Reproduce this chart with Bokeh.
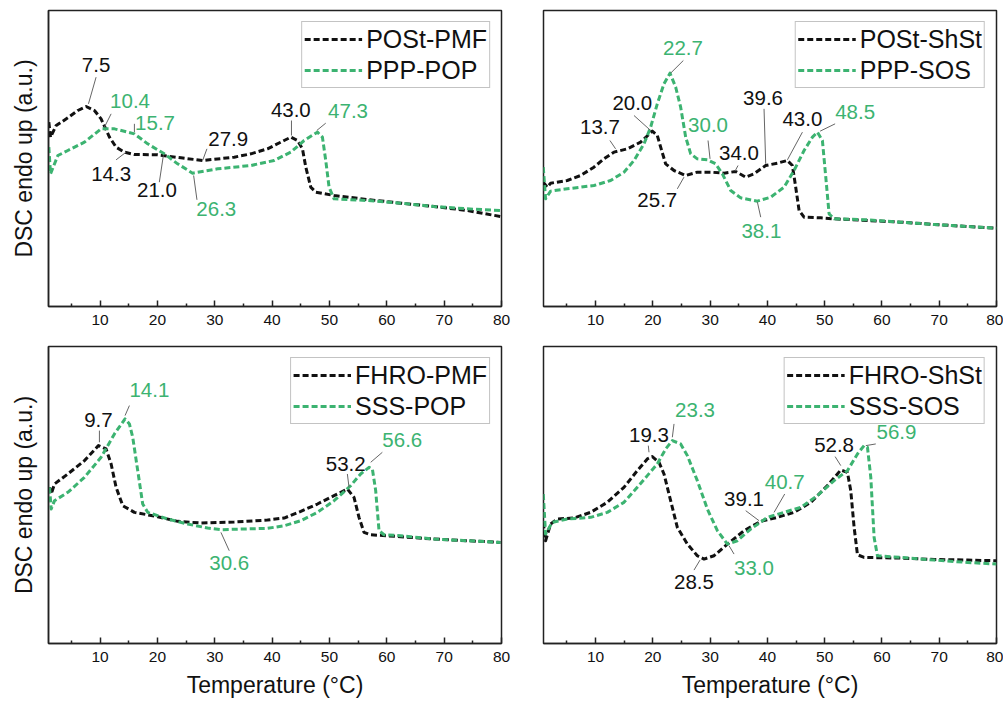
import numpy as np
from bokeh.plotting import figure
from bokeh.layouts import column, row
from bokeh.models import Range1d, Legend, LegendItem, FixedTicker, ColumnDataSource, LabelSet
from bokeh.core.properties import value
from bokeh.embed import file_html
from bokeh.resources import INLINE

FONT = "Liberation Sans"
BLACK = "#111111"
GREEN = "#3cb371"

# ---------------- tick labels ----------------
major_ticks = [10, 20, 30, 40, 50, 60, 70, 80]
minor_ticks = [5, 15, 25, 35, 45, 55, 65, 75]

# ---------------- panel A : POSt-PMF / PPP-POP ----------------
a_names = ["POSt-PMF", "PPP-POP"]
a_k_T = [1.06, 1.35, 2.34, 4.37, 6.11, 7.56, 9.01, 10.17, 11.63, 12.79, 14.24, 15.98, 20.04, 24.10,
         27.88, 33.39, 36.29, 39.19, 42.10, 43.26, 44.42, 45.29, 45.87, 46.74, 47.61, 50.80, 56.60,
         62.41, 68.21, 74.02, 79.82]
a_k_Q = [63.5, 59.0, 62.5, 64.8, 67.0, 68.2, 67.0, 64.5, 59.0, 56.0, 54.5, 53.8, 53.7, 52.8,
         52.0, 53.0, 54.0, 55.5, 58.0, 59.0, 58.0, 55.5, 50.0, 44.0, 42.5, 41.5, 40.3,
         39.2, 38.2, 37.0, 35.2]
a_g_T = [1.06, 1.35, 2.63, 4.37, 7.27, 10.17, 12.50, 15.98, 18.30, 21.20, 23.52, 26.13, 30.49, 36.29,
         40.35, 43.26, 45.58, 47.90, 48.77, 49.35, 49.93, 50.80, 56.60, 62.41, 68.21, 74.02, 79.82]
a_g_Q = [56.0, 48.0, 53.5, 55.0, 57.5, 61.5, 61.5, 60.0, 57.0, 54.0, 51.0, 48.2, 49.5, 50.5,
         52.0, 54.5, 58.0, 60.5, 59.0, 52.0, 44.0, 40.5, 40.0, 39.2, 38.2, 37.5, 37.0]
a_ann_text = ["7.5", "14.3", "21.0", "27.9", "43.0", "10.4", "15.7", "26.3", "47.3"]
a_ann_series = ["k", "k", "k", "k", "k", "g", "g", "g", "g"]

# ---------------- panel B : POSt-ShSt / PPP-SOS ----------------
b_names = ["POSt-ShSt", "PPP-SOS"]
b_k_T = [0.86, 1.56, 2.14, 5.05, 7.38, 9.71, 11.46, 13.20, 15.53, 17.86, 19.90, 20.77, 21.36, 22.23,
         23.69, 25.73, 27.76, 30.09, 32.42, 34.46, 36.21, 37.66, 39.70, 41.74, 43.49, 44.36, 44.94,
         45.53, 46.40, 49.31, 51.64, 57.47, 63.29, 69.12, 74.94, 80.0]
b_k_Q = [45.5, 44.0, 45.2, 46.0, 47.5, 50.0, 52.5, 54.5, 55.5, 57.5, 60.8, 59.5, 56.0, 51.0,
         49.0, 47.5, 48.5, 48.5, 48.2, 48.7, 47.0, 48.0, 50.5, 51.2, 52.0, 50.5, 44.0,
         37.0, 35.0, 34.8, 34.5, 34.0, 33.5, 32.8, 32.2, 31.7]
b_g_T = [0.86, 1.26, 2.14, 5.05, 9.71, 12.62, 14.95, 16.70, 18.45, 19.61, 20.77, 21.94, 22.99, 23.98,
         24.85, 25.73, 26.60, 27.76, 29.51, 30.97, 32.13, 33.59, 35.33, 38.25, 40.58, 42.91, 44.65,
         46.40, 47.86, 48.73, 49.60, 50.19, 50.77, 51.64, 57.47, 63.29, 69.12, 74.94, 80.0]
b_g_Q = [50.0, 40.5, 42.8, 43.5, 44.5, 46.0, 48.5, 52.0, 57.0, 62.0, 69.0, 75.0, 78.2, 74.0,
         68.0, 59.0, 54.0, 52.5, 52.2, 51.0, 48.0, 43.0, 40.8, 39.8, 41.0, 44.0, 49.0,
         55.0, 59.0, 60.5, 58.0, 47.0, 36.0, 34.5, 34.2, 33.5, 32.8, 32.2, 31.7]
b_ann_text = ["13.7", "20.0", "25.7", "34.0", "39.6", "43.0", "22.7", "30.0", "38.1", "48.5"]
b_ann_series = ["k", "k", "k", "k", "k", "k", "g", "g", "g", "g"]

# ---------------- panel C : FHRO-PMF / SSS-POP ----------------
c_names = ["FHRO-PMF", "SSS-POP"]
c_k_T = [1.18, 1.47, 2.05, 4.37, 7.27, 9.71, 11.04, 11.92, 12.79, 13.95, 15.98, 20.04, 23.52, 27.59,
         33.39, 39.19, 42.10, 45.00, 47.90, 50.80, 53.12, 54.28, 55.15, 56.02, 57.19, 62.41, 68.21,
         74.02, 79.82]
c_k_Q = [53.0, 51.0, 54.0, 57.0, 61.0, 65.5, 64.5, 60.0, 53.0, 47.5, 45.5, 44.2, 42.8, 42.3,
         42.6, 43.2, 43.8, 45.8, 48.0, 50.5, 52.5, 50.0, 44.0, 39.5, 38.8, 38.2, 37.5,
         37.0, 36.5]
c_g_T = [1.18, 1.47, 2.05, 4.37, 7.27, 10.17, 12.50, 14.35, 15.11, 15.69, 16.56, 17.43, 18.30, 21.78,
         25.26, 28.75, 31.07, 34.55, 39.19, 42.10, 45.00, 47.90, 50.80, 53.70, 55.44, 56.90, 57.48,
         58.06, 58.64, 59.51, 62.41, 68.21, 74.02, 79.82]
c_g_Q = [53.0, 46.5, 49.0, 51.5, 56.0, 62.0, 69.0, 73.5, 72.0, 68.0, 58.0, 48.0, 45.5, 43.5,
         42.0, 40.8, 40.3, 40.5, 40.7, 41.5, 43.0, 45.5, 49.0, 53.5, 57.0, 59.0, 58.5,
         52.0, 40.0, 38.8, 38.5, 37.5, 37.0, 36.5]
c_ann_text = ["9.7", "53.2", "14.1", "30.6", "56.6"]
c_ann_series = ["k", "k", "g", "g", "g"]

# ---------------- panel D : FHRO-ShSt / SSS-SOS ----------------
d_names = ["FHRO-ShSt", "SSS-SOS"]
d_k_T = [0.86, 1.26, 2.14, 3.30, 6.21, 9.13, 12.04, 14.95, 17.28, 19.03, 19.90, 21.07, 21.94, 23.10,
         24.27, 26.02, 27.76, 28.93, 30.68, 33.01, 35.92, 38.83, 41.74, 44.65, 47.57, 50.48, 52.81,
         53.97, 54.55, 55.14, 55.72, 56.88, 63.29, 69.12, 74.94, 80.0]
d_k_Q = [42.5, 37.0, 42.0, 43.5, 43.8, 45.5, 48.5, 53.0, 58.0, 61.5, 62.2, 60.5, 57.0, 49.0,
         41.0, 36.0, 32.5, 31.5, 32.5, 36.0, 40.0, 42.8, 44.0, 45.5, 48.5, 53.5, 58.2,
         57.5, 52.0, 41.0, 32.8, 32.0, 31.8, 31.4, 31.2, 31.0]
d_g_T = [0.86, 1.26, 2.43, 5.05, 9.13, 12.04, 14.95, 17.28, 19.03, 20.77, 22.23, 23.40, 24.85, 26.02,
         27.76, 29.51, 31.26, 33.01, 34.75, 37.08, 39.99, 42.91, 45.82, 48.73, 51.64, 53.97, 55.72,
         56.88, 57.47, 58.05, 58.63, 59.21, 63.29, 69.12, 74.94, 80.0]
d_g_Q = [51.0, 39.0, 42.5, 43.5, 44.0, 45.5, 48.5, 53.0, 56.5, 60.0, 64.5, 67.0, 66.0, 62.5,
         55.0, 46.5, 40.0, 36.0, 37.0, 40.5, 44.0, 45.5, 47.0, 50.5, 55.0, 58.0, 63.0,
         65.5, 65.0, 56.0, 38.0, 32.5, 32.0, 31.2, 30.5, 30.0]
d_ann_text = ["19.3", "28.5", "39.1", "52.8", "23.3", "33.0", "40.7", "56.9"]
d_ann_series = ["k", "k", "k", "k", "g", "g", "g", "g"]

# ---------------- annotation layout (label centre, leader start, leader end) ----------------
a_ann_pos = [(9.30, 80.8, 9.30, 77.0, 7.97, 69.0),
             (11.92, 48.0, 12.79, 52.2, 14.53, 54.5),
             (19.92, 43.2, 20.33, 45.5, 21.03, 53.5),
             (32.34, 58.5, 28.63, 55.5, 27.88, 52.0),
             (43.26, 67.1, 43.37, 64.0, 43.37, 59.5),
             (15.22, 69.8, 11.92, 66.0, 10.75, 62.0),
             (19.58, 63.3, 15.98, 63.0, 15.98, 60.5),
             (30.26, 37.6, 26.89, 40.2, 26.31, 47.5),
             (53.24, 67.0, 49.35, 63.2, 47.78, 61.0)]
b_ann_pos = [(10.76, 62.0, 12.50, 58.0, 13.49, 55.5),
             (16.41, 69.2, 16.70, 65.5, 19.61, 61.0),
             (20.77, 40.2, 24.27, 43.5, 25.43, 47.0),
             (35.04, 54.3, 34.87, 50.5, 34.34, 48.8),
             (39.24, 70.8, 39.41, 67.5, 39.70, 51.0),
             (46.11, 64.5, 46.11, 60.5, 43.49, 52.2),
             (25.26, 85.8, 25.32, 82.0, 23.10, 78.2),
             (29.63, 62.8, 29.63, 58.0, 29.98, 52.5),
             (38.95, 31.0, 38.83, 35.0, 38.25, 39.5),
             (55.31, 66.5, 51.82, 63.0, 49.20, 60.8)]
c_ann_pos = [(9.71, 73.2, 9.88, 70.0, 9.88, 66.5),
             (52.83, 60.0, 53.12, 57.0, 53.41, 53.0),
             (18.59, 82.2, 15.11, 77.5, 14.35, 74.5),
             (32.52, 30.2, 32.52, 34.0, 31.07, 39.5),
             (62.70, 67.2, 59.22, 63.5, 57.19, 60.5)]
d_ann_pos = [(19.32, 68.8, 19.20, 65.5, 19.32, 63.5),
             (27.18, 24.5, 27.18, 28.2, 28.23, 31.2),
             (35.92, 49.5, 36.21, 46.0, 38.54, 43.0),
             (51.64, 65.7, 51.82, 62.2, 52.81, 59.5),
             (27.36, 76.3, 23.69, 72.0, 23.40, 68.0),
             (37.66, 28.8, 34.17, 33.0, 33.30, 35.5),
             (43.02, 54.5, 43.02, 51.0, 41.16, 45.5),
             (62.53, 69.5, 58.92, 66.0, 57.18, 65.5)]


def make_panel(names, kT, kQ, gT, gQ, ann_text, ann_series, ann_pos,
               xr, yr, width, height, mb, ylabel, xlabel):
    p = figure(width=width, height=height, x_range=Range1d(*xr), y_range=Range1d(*yr),
               output_backend="svg", toolbar_location=None,
               min_border_left=mb[0], min_border_right=mb[1],
               min_border_top=mb[2], min_border_bottom=mb[3])
    p.grid.visible = False
    p.background_fill_color = "white"
    p.border_fill_color = "white"
    p.outline_line_color = "#222222"
    p.outline_line_width = 1.5
    p.outline_line_alpha = 1.0

    xa = p.xaxis[0]
    xa.ticker = FixedTicker(ticks=major_ticks, minor_ticks=minor_ticks)
    xa.major_tick_in = 6
    xa.major_tick_out = 0
    xa.minor_tick_in = 3
    xa.minor_tick_out = 0
    xa.major_tick_line_color = "#222222"
    xa.minor_tick_line_color = "#222222"
    xa.major_tick_line_width = 1.5
    xa.minor_tick_line_width = 1.5
    xa.axis_line_color = "#222222"
    xa.axis_line_width = 1.5
    xa.major_label_text_font = FONT
    xa.major_label_text_font_size = "15.5px"
    xa.major_label_text_color = "#111111"
    xa.major_label_standoff = 8
    if xlabel:
        xa.axis_label = xlabel
        xa.axis_label_text_font = FONT
        xa.axis_label_text_font_size = "23px"
        xa.axis_label_text_font_style = "normal"
        xa.axis_label_text_color = "#111111"
        xa.axis_label_standoff = 7

    ya = p.yaxis[0]
    if ylabel:
        ya.ticker = FixedTicker(ticks=[])
        ya.major_tick_in = 0
        ya.major_tick_out = 0
        ya.minor_tick_in = 0
        ya.minor_tick_out = 0
        ya.major_label_standoff = 0
        ya.axis_line_color = "#222222"
        ya.axis_line_width = 1.5
        ya.axis_label = ylabel
        ya.axis_label_text_font = FONT
        ya.axis_label_text_font_size = "23px"
        ya.axis_label_text_font_style = "normal"
        ya.axis_label_text_color = "#111111"
        ya.axis_label_standoff = 12
    else:
        ya.visible = False

    rk = p.line(kT, kQ, line_color=BLACK, line_width=3, line_dash="6 3", line_join="round")
    rg = p.line(gT, gQ, line_color=GREEN, line_width=3, line_dash="6 3", line_join="round")

    cols = [BLACK if s == "k" else GREEN for s in ann_series]
    lx = [a[0] for a in ann_pos]
    ly = [a[1] for a in ann_pos]
    seg = ColumnDataSource(dict(x0=[a[2] for a in ann_pos], y0=[a[3] for a in ann_pos],
                                x1=[a[4] for a in ann_pos], y1=[a[5] for a in ann_pos]))
    p.segment(x0="x0", y0="y0", x1="x1", y1="y1", source=seg, line_color="#666666", line_width=1)
    src = ColumnDataSource(dict(x=lx, y=ly, text=ann_text, color=cols))
    p.add_layout(LabelSet(x="x", y="y", text="text", source=src, text_color="color",
                          text_align="center", text_baseline="middle",
                          text_font=value(FONT), text_font_size=value("20.5px")))

    legend = Legend(items=[LegendItem(label=names[0], renderers=[rk]),
                           LegendItem(label=names[1], renderers=[rg])],
                    location="top_right", margin=11, padding=2, spacing=1,
                    glyph_width=58, glyph_height=30, label_height=30, label_standoff=4,
                    label_text_font=FONT, label_text_font_size="25px", label_text_color="#111111",
                    border_line_color="#888888", border_line_width=1.5,
                    background_fill_color="white", background_fill_alpha=1.0)
    p.add_layout(legend)
    return p


YR_TOP = (8.2, 97.0)
YR_BOT = (6.2, 95.2)
XR_L = (1.0, 80.0)
XR_R = (0.9, 80.0)

pa = make_panel(a_names, a_k_T, a_k_Q, a_g_T, a_g_Q, a_ann_text, a_ann_series, a_ann_pos,
                XR_L, YR_TOP, 511, 336, (48, 10, 10, 30), "DSC endo up (a.u.)", None)
pb = make_panel(b_names, b_k_T, b_k_Q, b_g_T, b_g_Q, b_ann_text, b_ann_series, b_ann_pos,
                XR_R, YR_TOP, 492, 336, (32, 7, 10, 30), None, None)
pc = make_panel(c_names, c_k_T, c_k_Q, c_g_T, c_g_Q, c_ann_text, c_ann_series, c_ann_pos,
                XR_L, YR_BOT, 511, 365, (48, 10, 10, 58), "DSC endo up (a.u.)", "Temperature (°C)")
pd = make_panel(d_names, d_k_T, d_k_Q, d_g_T, d_g_Q, d_ann_text, d_ann_series, d_ann_pos,
                XR_R, YR_BOT, 492, 365, (32, 7, 10, 58), None, "Temperature (°C)")

layout = column(row(pa, pb, spacing=0), row(pc, pd, spacing=0), spacing=0)
open("out.html", "w").write(file_html(layout, INLINE))
